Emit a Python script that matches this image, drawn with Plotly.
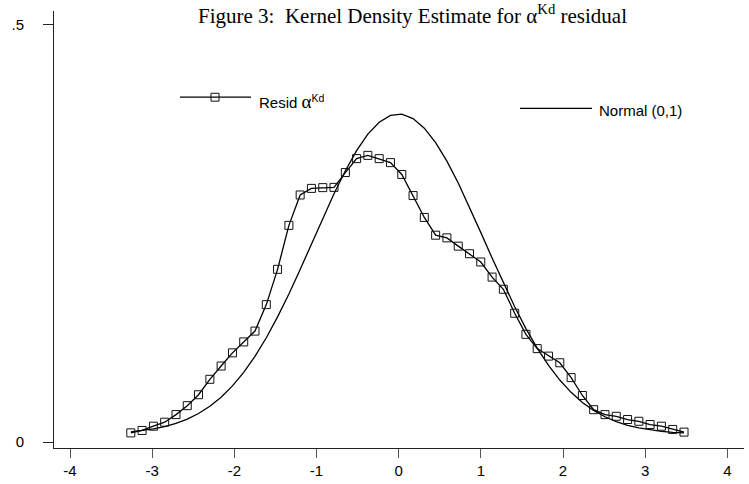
import plotly.graph_objects as go

# ---- data ----
x_grid = [-3.260, -3.123, -2.985, -2.848, -2.710, -2.573, -2.436, -2.298, -2.161, -2.023,
          -1.886, -1.749, -1.611, -1.474, -1.336, -1.199, -1.062, -0.924, -0.787, -0.649,
          -0.512, -0.375, -0.237, -0.100, 0.038, 0.175, 0.312, 0.450, 0.587, 0.725,
          0.862, 0.999, 1.137, 1.274, 1.412, 1.549, 1.686, 1.824, 1.961, 2.099,
          2.236, 2.373, 2.511, 2.648, 2.786, 2.923, 3.060, 3.198, 3.335, 3.473]

resid_density = [0.0110, 0.0139, 0.0190, 0.0238, 0.0329, 0.0436, 0.0567, 0.0752, 0.0911, 0.1069,
                 0.1200, 0.1330, 0.1647, 0.2070, 0.2597, 0.2961, 0.3040, 0.3049, 0.3052, 0.3230,
                 0.3397, 0.3436, 0.3397, 0.3349, 0.3207, 0.2954, 0.2692, 0.2479, 0.2447, 0.2348,
                 0.2257, 0.2158, 0.1977, 0.1831, 0.1544, 0.1291, 0.1120, 0.1030, 0.0950, 0.0772,
                 0.0558, 0.0388, 0.0329, 0.0309, 0.0270, 0.0249, 0.0210, 0.0190, 0.0151, 0.0119]

normal_density = [0.0123, 0.0137, 0.0157, 0.0185, 0.0224, 0.0275, 0.0342, 0.0429, 0.0538, 0.0673,
                  0.0836, 0.1028, 0.1250, 0.1500, 0.1775, 0.2069, 0.2373, 0.2680, 0.2976, 0.3252,
                  0.3493, 0.3690, 0.3833, 0.3914, 0.3929, 0.3877, 0.3762, 0.3589, 0.3366, 0.3104,
                  0.2816, 0.2513, 0.2206, 0.1906, 0.1622, 0.1360, 0.1125, 0.0919, 0.0743, 0.0596,
                  0.0475, 0.0379, 0.0303, 0.0245, 0.0201, 0.0169, 0.0146, 0.0129, 0.0117, 0.0110]

x_ticks = [-4, -3, -2, -1, 0, 1, 2, 3, 4]
x_tick_labels = ["-4", "-3", "-2", "-1", "0", "1", "2", "3", "4"]
y_ticks = [0, 0.5]
y_tick_labels = ["0", ".5"]

W, H = 749, 484
ML, MR, MT, MB = 54, 5, 11, 32
PW, PH = W - ML - MR, H - MT - MB


def px(xp):
    return (xp - ML) / PW


def py(yp):
    return (H - MB - yp) / PH


fig = go.Figure()
fig.add_trace(go.Scatter(
    x=x_grid, y=normal_density, mode="lines",
    line=dict(color="black", width=1.3), showlegend=False, hoverinfo="skip"))
fig.add_trace(go.Scatter(
    x=x_grid, y=resid_density, mode="lines+markers",
    line=dict(color="black", width=1.3),
    marker=dict(symbol="square-open", size=8, color="#111", line=dict(width=1)),
    showlegend=False, hoverinfo="skip"))

shapes = [
    dict(type="line", xref="paper", yref="paper", x0=px(180), x1=px(251), y0=py(98), y1=py(98),
         line=dict(color="black", width=1.2)),
    dict(type="rect", xref="paper", yref="paper", x0=px(211), x1=px(219), y0=py(94), y1=py(102),
         line=dict(color="#111", width=1), fillcolor="rgba(0,0,0,0)"),
    dict(type="line", xref="paper", yref="paper", x0=px(520), x1=px(592), y0=py(109.3), y1=py(109.3),
         line=dict(color="black", width=1.2)),
]

annotations = [
    dict(xref="paper", yref="paper", x=px(412), y=py(15), xanchor="center", yanchor="middle",
         showarrow=False,
         text="Figure 3:\u00a0 Kernel Density Estimate for α<sup>Kd</sup> residual",
         font=dict(family="Liberation Serif", size=21, color="black")),
    dict(xref="paper", yref="paper", x=px(257), y=py(102), xanchor="left", yanchor="middle",
         showarrow=False,
         text="Resid <span style='font-family:Liberation Serif;font-size:19px'>α</span><sup>Kd</sup>",
         font=dict(family="Liberation Sans", size=15, color="black")),
    dict(xref="paper", yref="paper", x=px(597), y=py(111), xanchor="left", yanchor="middle",
         showarrow=False, text="Normal (0,1)",
         font=dict(family="Liberation Sans", size=15, color="black")),
]

fig.update_layout(
    width=W, height=H,
    margin=dict(l=ML, r=MR, t=MT, b=MB, pad=0),
    paper_bgcolor="white", plot_bgcolor="white",
    shapes=shapes, annotations=annotations,
    showlegend=False,
    font=dict(family="Liberation Sans", size=15, color="black"),
)
fig.update_xaxes(
    range=[-4.195, 4.203], tickvals=x_ticks, ticktext=x_tick_labels,
    showgrid=False, zeroline=False, showline=True, linecolor="#222", linewidth=1,
    ticks="outside", ticklen=9, tickcolor="#555", tickwidth=1,
    tickfont=dict(family="Liberation Sans", size=15, color="black"))
fig.update_yaxes(
    range=[-0.00713, 0.5166], tickvals=y_ticks, ticktext=y_tick_labels,
    showgrid=False, zeroline=False, showline=True, linecolor="#222", linewidth=1,
    ticks="outside", ticklen=10, tickcolor="#222", tickwidth=1,
    ticklabelstandoff=16,
    tickfont=dict(family="Liberation Sans", size=15, color="black"))

fig.write_html("out.html")
